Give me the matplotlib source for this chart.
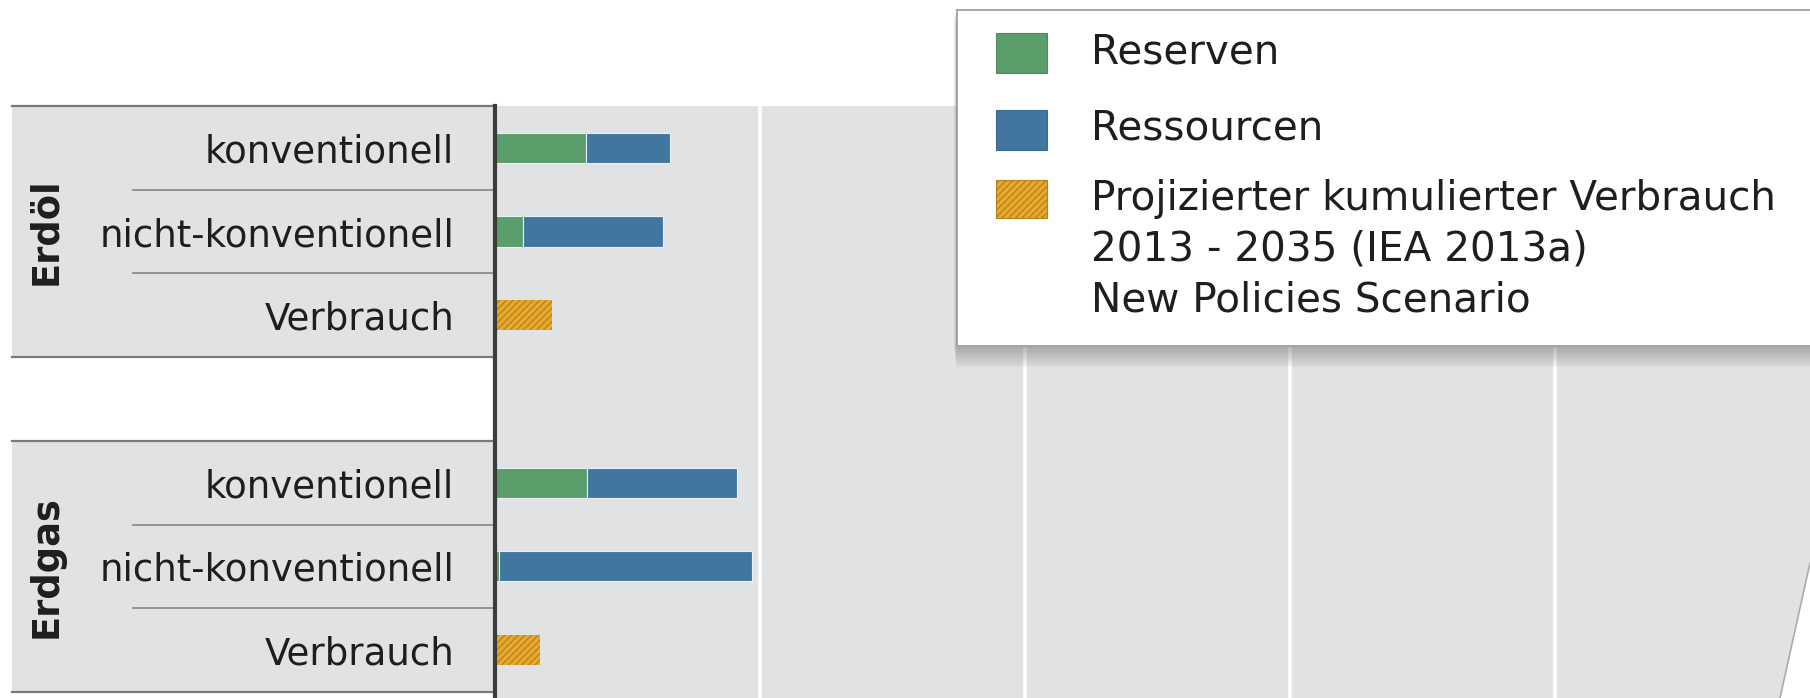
import matplotlib
matplotlib.use("Agg")
import matplotlib.pyplot as plt
from matplotlib.patches import Rectangle, Polygon
from matplotlib.lines import Line2D
from matplotlib.transforms import blended_transform_factory
import numpy as np

# ---------------- data (EJ) ----------------
groups = ["Erdöl", "Erdgas"]
row_labels = ["konventionell", "nicht-konventionell", "Verbrauch"]
oil_reserves = [6900, 2100, 0]
oil_resources = [6270, 10550, 0]
oil_consumption = [0, 0, 4290]
gas_reserves = [6980, 300, 0]
gas_resources = [11250, 19100, 0]
gas_consumption = [0, 0, 3400]
legend_labels = ["Reserven", "Ressourcen",
                 "Projizierter kumulierter Verbrauch\n2013 - 2035 (IEA 2013a)\nNew Policies Scenario"]
grid_step = 20000

# ---------------- style ----------------
W, H = 1810, 698
C_GREEN = "#5b9d6b"
C_BLUE = "#41779f"
C_ORANGE = "#e9aa2c"
C_HATCH = "#b5821f"
C_PANEL = "#e1e2e4"
C_TEXT = "#1e1e1e"
plt.rcParams["font.family"] = ["DejaVu Sans"]
plt.rcParams["hatch.linewidth"] = 1.0

fig = plt.figure(figsize=(W / 100, H / 100), dpi=100)
fig.patch.set_facecolor("white")

ax_left = 495
ax_top = 106
ax = fig.add_axes([ax_left / W, 0, (W - ax_left) / W, (H - ax_top) / H])
ax.set_facecolor(C_PANEL)
row_px = 83.7
ax.set_xlim(0, grid_step * (W - ax_left) / 265.0)
ax.set_ylim(-0.5 + (H - ax_top) / row_px, -0.5)

ypos = np.array([0, 1, 2, 4, 5, 6])
reserves = np.array(oil_reserves + gas_reserves, dtype=float)
resources = np.array(oil_resources + gas_resources, dtype=float)
consumption = np.array(oil_consumption + gas_consumption, dtype=float)

bh = 0.36
m = reserves > 0
ax.barh(ypos[m], reserves[m], height=bh, color=C_GREEN, edgecolor="#e8f0f5",
        linewidth=0.8, zorder=3)
m = resources > 0
ax.barh(ypos[m], resources[m], left=reserves[m], height=bh, color=C_BLUE,
        edgecolor="#e8f0f5", linewidth=0.8, zorder=3)
m = consumption > 0
ax.barh(ypos[m], consumption[m], height=bh, facecolor=C_ORANGE, edgecolor=C_HATCH,
        linewidth=0, hatch="/////", zorder=3)

ax.set_xticks(np.arange(grid_step, ax.get_xlim()[1], grid_step))
ax.grid(axis="x", color="white", linewidth=2.6)
ax.set_axisbelow(True)
ax.tick_params(axis="x", length=0, labelbottom=False)
ax.set_yticks(ypos, row_labels * 2, fontsize=26.7, color=C_TEXT)
ax.tick_params(axis="y", length=0, pad=29.5)
for s in ["top", "right", "bottom"]:
    ax.spines[s].set_visible(False)
ax.spines["left"].set_color("#3c3c3c")
ax.spines["left"].set_linewidth(3)
ax.spines["left"].set_zorder(6)

# ---------------- left label boxes ----------------
trans = blended_transform_factory(fig.transFigure, ax.transData)
x0, x1, xs = 12 / W, ax_left / W, 133 / W
for gi, (top, name) in enumerate([(-0.5, groups[0]), (3.5, groups[1])]):
    ax.add_patch(Rectangle((x0, top), x1 - x0, 3.0, transform=trans,
                           facecolor=C_PANEL, edgecolor="none",
                           clip_on=False, zorder=0))
    for yy in (top, top + 3.0):
        ax.add_line(Line2D([x0, x1], [yy, yy], transform=trans, color="#7a7a7a",
                           linewidth=1.6, clip_on=False, zorder=1))
    for yy in (top + 1.0, top + 2.0):
        ax.add_line(Line2D([xs, x1], [yy, yy], transform=trans, color="#8c8c8c",
                           linewidth=1.3, clip_on=False, zorder=1))
    ax.text(46 / W, top + 1.5, name, transform=trans, rotation=90, ha="center",
            va="center", fontsize=26.5, fontweight="bold", color=C_TEXT)

# ---------------- legend ----------------
def fx(x):
    return x / W


def fy(y):
    return 1 - y / H


lx0, ly0, ly1 = 957, 10, 346
for i in range(8):
    fig.add_artist(Rectangle((fx(lx0 - 3 + i * 0.3), fy(ly1 + 3 + i * 2.6)),
                             fx(W - lx0 + 20), fy(ly0) - fy(ly1),
                             transform=fig.transFigure, facecolor="#6f7275",
                             edgecolor="none", alpha=0.07, zorder=9))
fig.add_artist(Rectangle((fx(lx0), fy(ly1)), fx(W - lx0 + 20), fy(ly0) - fy(ly1),
                         transform=fig.transFigure, facecolor="white",
                         edgecolor="#a0a0a0", linewidth=1.3, zorder=10))

patch_styles = [dict(facecolor=C_GREEN, edgecolor="#4d8a5c"),
                dict(facecolor=C_BLUE, edgecolor="#386a90"),
                dict(facecolor=C_ORANGE, edgecolor=C_HATCH, hatch="/////")]
patch_y = [(33, 73), (110, 150), (180, 218)]
text_y = [[53], [129], [199, 249, 300]]
for lab, st, (pt, pb), tys in zip(legend_labels, patch_styles, patch_y, text_y):
    fig.add_artist(Rectangle((fx(996), fy(pb)), fx(51), fy(pt) - fy(pb),
                             transform=fig.transFigure, linewidth=0.8,
                             zorder=11, **st))
    for line, ty in zip(lab.split("\n"), tys):
        fig.text(fx(1091), fy(ty), line, ha="left", va="center", fontsize=29.2,
                 color=C_TEXT, zorder=12)

# ---------------- page edge (bottom right) ----------------
fig.add_artist(Polygon([(fx(1780), 0), (fx(1810), fy(563)), (1.01, fy(563)), (1.01, 0)],
                       closed=True, transform=fig.transFigure, facecolor="white",
                       edgecolor="none", zorder=8))
fig.add_artist(Line2D([fx(1780), fx(1810)], [0, fy(563)], transform=fig.transFigure,
                      color="#a9abad", linewidth=1.2, zorder=8))

fig.savefig("out.png", dpi=100, facecolor="white")
